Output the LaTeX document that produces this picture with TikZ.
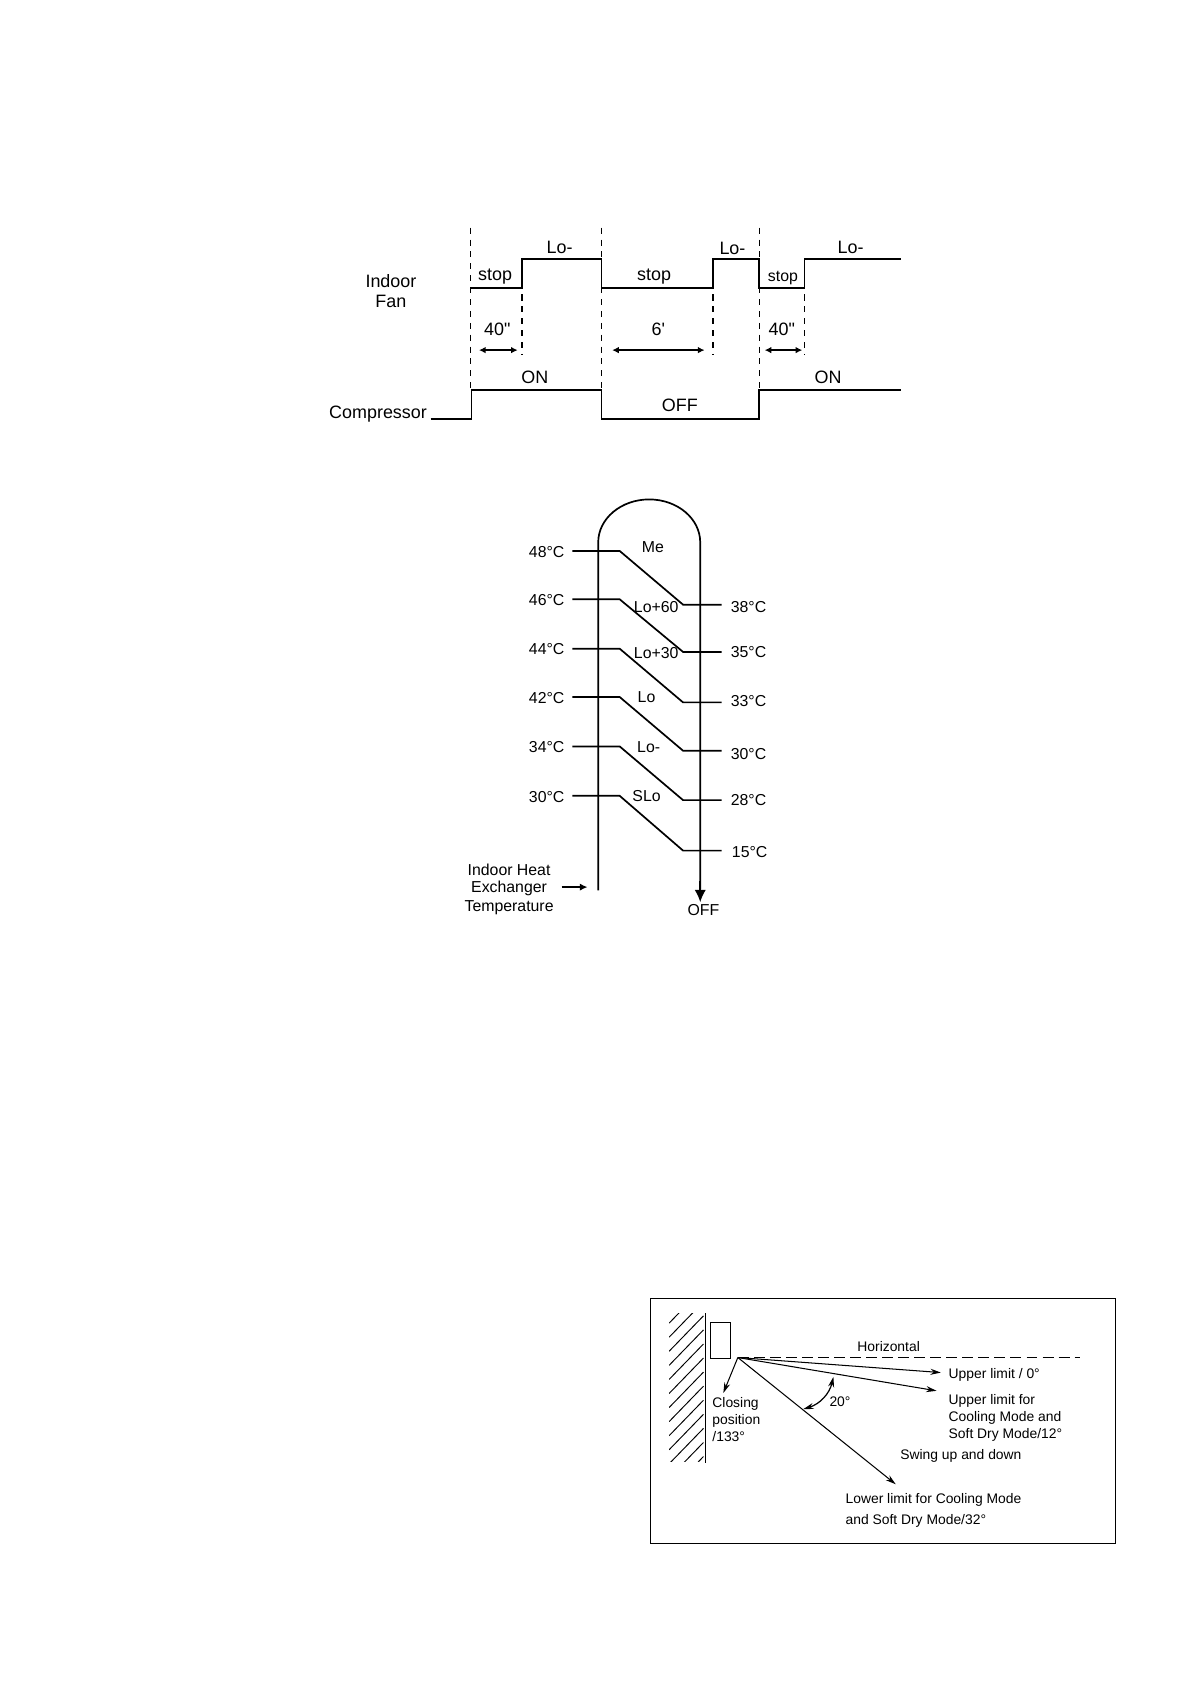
\documentclass[tikz,border=0pt]{standalone}
\usepackage{fontspec}
\setmainfont{Liberation Sans}
\newfontfamily\plainmarks{Liberation Sans}
\usetikzlibrary{arrows.meta}
\tikzset{
    tlabel/.style={font=\fontsize{9.5}{10}\selectfont, inner sep=0pt},
    slabel/.style={font=\fontsize{8.4}{10}\selectfont, inner sep=0pt},
    blabel/.style={font=\fontsize{7.35}{9}\selectfont, inner sep=0pt, anchor=west},
    trace/.style={line width=0.9pt},
    guide/.style={dashed, dash pattern=on 3.2pt off 3.1pt, line width=0.7pt},
    thin box/.style={line width=0.5pt},
    span/.style={{Latex[length=3.5pt,width=3.5pt]}-{Latex[length=3.5pt,width=3.5pt]}, line width=0.7pt},
    ray/.style={-{Stealth[length=5.5pt,width=3.2pt]}, line width=0.55pt}
}
\begin{document}
\begin{tikzpicture}[x=0.02cm,y=-0.02cm]
    \useasboundingbox (0,0) rectangle (1108,1568);

        \draw[guide] (438,212) -- (438,363);
        \draw[guide] (486,241) -- (486,330);
        \draw[guide] (560,212) -- (560,390);
        \draw[guide] (664,241) -- (664,330);
        \draw[guide] (707,212) -- (707,390);
        \draw[guide] (749,241) -- (749,330);

        \draw[trace] (438,268) -- (486,268) -- (486,241) -- (560,241) -- (560,268) -- (664,268) -- (664,241) -- (707,241) -- (707,268) -- (749,268) -- (749,241) -- (839,241);
        \draw[trace] (401,390) -- (439,390) -- (439,363) -- (560,363) -- (560,390) -- (707,390) -- (707,363) -- (839,363);

        \draw[span] (446,326) -- (482,326);
        \draw[span] (570,326) -- (656,326);
        \draw[span] (712,326) -- (747,326);

        \node[tlabel] (loa) at (521,230) {Lo-};
        \node[tlabel] (stopa) at (461,257.5) {stop};
        \node[tlabel] (stopb) at (609,257.5) {stop};
        \node[tlabel] (lob) at (682,231) {Lo-};
        \node[slabel] (stopc) at (729,258.5) {stop};
        \node[tlabel] (loc) at (792,230) {Lo-};
        \node[tlabel] (indoor) at (364,262) {Indoor};
        \node[tlabel] (fan) at (364,281) {Fan};
        \node[tlabel] (timea) at (463,306.5) {\plainmarks 40"};
        \node[tlabel] (timeb) at (613,306.5) {\plainmarks 6'};
        \node[tlabel] (timec) at (728,306.5) {\plainmarks 40"};
        \node[tlabel] (ona) at (498,351.5) {ON};
        \node[tlabel] (off) at (633,377.5) {OFF};
        \node[tlabel] (onb) at (771,351.5) {ON};
        \node[tlabel] (compressor) at (352,385.5) {Compressor};

        \coordinate (tubeend) at (652,840);
        \coordinate (tempfrom) at (523,826);
        \coordinate (tempto) at (547,826);

        \draw[trace] (557,829) -- (557,505) arc[start angle=180,end angle=0,x radius=0.95cm,y radius=0.8cm] -- (652,828);
        \draw[-{Latex[length=6.5pt,width=6pt]}, trace] (652,820) -- (tubeend);
        \draw[-{Latex[length=4pt,width=3.8pt]}, line width=0.7pt] (tempfrom) -- (tempto);

        \draw[trace] (533,513) -- (577,513) -- (636,563) -- (672,563);
        \draw[trace] (533,558) -- (577,558) -- (636,607) -- (672,607);
        \draw[trace] (533,604) -- (577,604) -- (636,654) -- (672,654);
        \draw[trace] (533,649) -- (577,649) -- (636,699) -- (672,699);
        \draw[trace] (533,695) -- (577,695) -- (636,745) -- (672,745);
        \draw[trace] (533,741) -- (577,741) -- (636,792) -- (672,792);

        \node[slabel] (ta) at (509,514) {48°C};
        \node[slabel] (tb) at (509,559) {46°C};
        \node[slabel] (tc) at (509,604) {44°C};
        \node[slabel] (td) at (509,650) {42°C};
        \node[slabel] (te) at (509,696) {34°C};
        \node[slabel] (tf) at (509,742) {30°C};
        \node[slabel] (tg) at (697,565) {38°C};
        \node[slabel] (th) at (697,607) {35°C};
        \node[slabel] (ti) at (697,653) {33°C};
        \node[slabel] (tj) at (697,702) {30°C};
        \node[slabel] (tk) at (697,745) {28°C};
        \node[slabel] (tl) at (698,793) {15°C};
        \node[slabel] (me) at (608,509) {Me};
        \node[slabel] (losixty) at (611,565) {Lo+60};
        \node[slabel] (lothirty) at (611,608) {Lo+30};
        \node[slabel] (lo) at (602,649) {Lo};
        \node[slabel] (lominus) at (604,696) {Lo-};
        \node[slabel] (slo) at (602,741) {SLo};
        \node[slabel] (heata) at (474,810) {Indoor Heat};
        \node[slabel] (heatb) at (474,827) {Exchanger};
        \node[slabel] (heatc) at (474,845) {Temperature};
        \node[slabel] (tubeoff) at (655,847) {OFF};

        \draw[thin box] (606,1209) rectangle (1038.5,1437);
        \draw[thin box] (661.5,1231) rectangle (680,1265);
        \draw[line width=0.7pt] (657,1223) -- (657,1362);
        \begin{scope}
            \clip (623,1223) rectangle (656,1361);
            \foreach \y in {1232,1245.1,...,1400}
                \draw[thin box] (623,\y) -- (655,\y-33);
        \end{scope}

        \coordinate (pivot) at (687,1264);
        \coordinate (level) at (1006,1264);
        \coordinate (upper) at (876,1278);
        \coordinate (cooling) at (872,1295);
        \coordinate (lower) at (834,1382);
        \coordinate (closing) at (673.5,1297);
        \coordinate (swinga) at (776,1282);
        \coordinate (swingb) at (748,1312);

        \draw[thin box, dashed, dash pattern=on 5.8pt off 2.7pt] (pivot) -- (level);
        \draw[ray] (pivot) -- (upper);
        \draw[ray] (pivot) -- (cooling);
        \draw[ray] (pivot) -- (lower);
        \draw[ray] (pivot) -- (closing);
        \draw[{Stealth[length=5.5pt,width=3.2pt]}-{Stealth[length=5.5pt,width=3.2pt]}, line width=0.65pt] (swinga) to[bend left=30] (swingb);

        \node[blabel] (horizontal) at (798,1253.5) {Horizontal};
        \node[blabel] (upperlimit) at (883,1280) {Upper limit / 0°};
        \node[blabel] (coolinga) at (883,1304) {Upper limit for};
        \node[blabel] (coolingb) at (883,1320) {Cooling Mode and};
        \node[blabel] (coolingc) at (883,1336) {Soft Dry Mode/12°};
        \node[blabel] (swing) at (838,1356) {Swing up and down};
        \node[blabel] (lowera) at (787,1397) {Lower limit for Cooling Mode};
        \node[blabel] (lowerb) at (787,1416) {and Soft Dry Mode/32°};
        \node[blabel] (closinga) at (663,1307) {Closing};
        \node[blabel] (closingb) at (663,1323) {position};
        \node[blabel] (closingc) at (663,1338) {/133°};
        \node[blabel] (angle) at (772,1305) {20°};
    \end{tikzpicture}
\end{document}
